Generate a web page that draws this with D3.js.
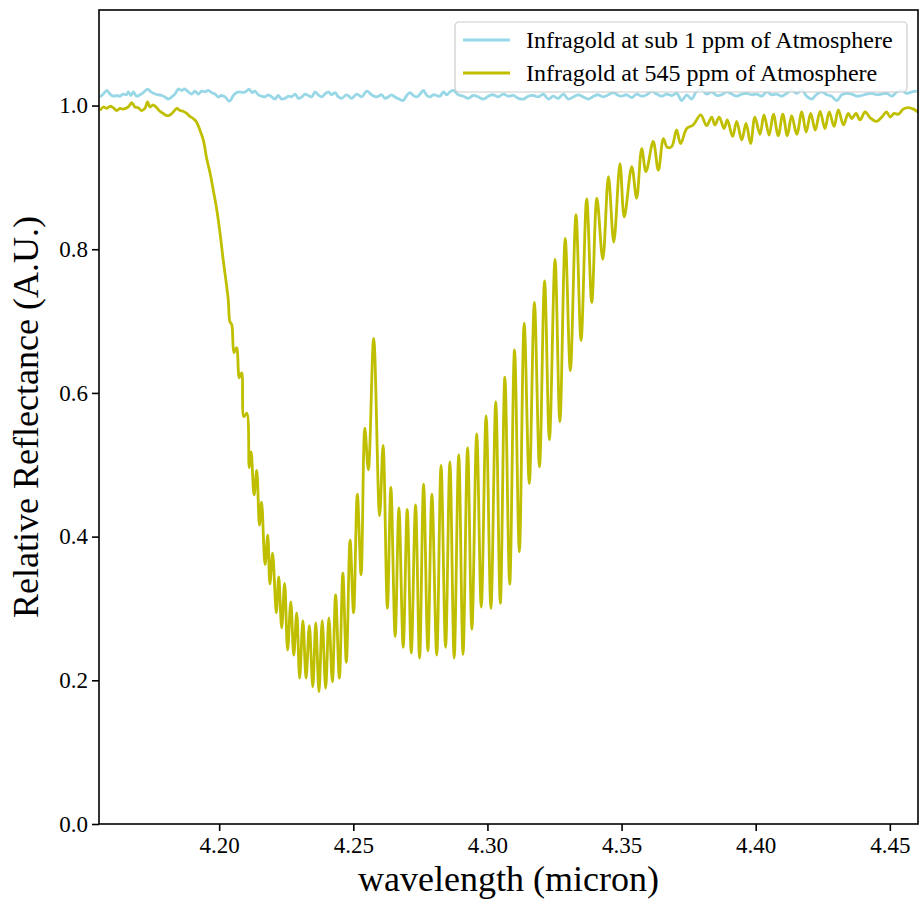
<!DOCTYPE html>
<html>
<head>
<meta charset="utf-8">
<script src="https://cdn.jsdelivr.net/npm/d3@7"></script>
<style>
  body { margin: 0; background: #fff; }
  text { font-family: "Liberation Serif", "DejaVu Serif", serif; fill: #000; }
</style>
</head>
<body>
<div id="chart"></div>
<script>
// values (wavelength in micron, relative reflectance)
const wavelengthSub1 = [
  4.1556, 4.1568, 4.1581, 4.1593, 4.1605, 4.1618, 4.1630, 4.1642, 4.1655, 4.1661,
  4.1671, 4.1680, 4.1692, 4.1705, 4.1717, 4.1733, 4.1746, 4.1761, 4.1773, 4.1786,
  4.1798, 4.1810, 4.1823, 4.1835, 4.1848, 4.1860, 4.1872, 4.1885, 4.1897, 4.1910,
  4.1922, 4.1935, 4.1947, 4.1959, 4.1972, 4.1984, 4.1997, 4.2009, 4.2022, 4.2038,
  4.2053, 4.2065, 4.2078, 4.2090, 4.2102, 4.2111, 4.2123, 4.2133, 4.2146, 4.2158,
  4.2171, 4.2183, 4.2196, 4.2208, 4.2220, 4.2233, 4.2245, 4.2258, 4.2270, 4.2283,
  4.2295, 4.2308, 4.2320, 4.2332, 4.2345, 4.2357, 4.2369, 4.2382, 4.2394, 4.2407,
  4.2419, 4.2432, 4.2444, 4.2457, 4.2475, 4.2494, 4.2513, 4.2531, 4.2550, 4.2568,
  4.2587, 4.2606, 4.2618, 4.2634, 4.2643, 4.2655, 4.2671, 4.2686, 4.2699, 4.2711,
  4.2724, 4.2736, 4.2749, 4.2761, 4.2774, 4.2786, 4.2798, 4.2811, 4.2823, 4.2836,
  4.2848, 4.2860, 4.2873, 4.2891, 4.2910, 4.2929, 4.2947, 4.2966, 4.2985, 4.3003,
  4.3022, 4.3040, 4.3059, 4.3078, 4.3096, 4.3115, 4.3134, 4.3152, 4.3171, 4.3190,
  4.3208, 4.3227, 4.3245, 4.3264, 4.3283, 4.3301, 4.3320, 4.3339, 4.3357, 4.3376,
  4.3395, 4.3413, 4.3432, 4.3451, 4.3469, 4.3488, 4.3500, 4.3519, 4.3538, 4.3556,
  4.3575, 4.3594, 4.3612, 4.3631, 4.3650, 4.3668, 4.3687, 4.3706, 4.3724, 4.3743,
  4.3761, 4.3780, 4.3799, 4.3817, 4.3836, 4.3855, 4.3873, 4.3892, 4.3911, 4.3929,
  4.3948, 4.3966, 4.3985, 4.4004, 4.4022, 4.4041, 4.4060, 4.4078, 4.4097, 4.4116,
  4.4134, 4.4153, 4.4172, 4.4190, 4.4209, 4.4228, 4.4246, 4.4265, 4.4283, 4.4302,
  4.4321, 4.4339, 4.4358, 4.4377, 4.4395, 4.4414, 4.4433, 4.4451, 4.4470, 4.4489,
  4.4507, 4.4526, 4.4544, 4.4563, 4.4582, 4.4600
];
const reflectanceSub1 = [
  1.012, 1.016, 1.021, 1.016, 1.013, 1.014, 1.013, 1.016, 1.015, 1.019,
  1.014, 1.019, 1.013, 1.015, 1.018, 1.023, 1.019, 1.016, 1.015, 1.014,
  1.012, 1.009, 1.012, 1.016, 1.023, 1.021, 1.023, 1.019, 1.016, 1.020,
  1.016, 1.020, 1.019, 1.021, 1.018, 1.016, 1.012, 1.014, 1.012, 1.006,
  1.014, 1.018, 1.019, 1.018, 1.020, 1.023, 1.018, 1.020, 1.015, 1.013,
  1.012, 1.015, 1.012, 1.009, 1.014, 1.009, 1.010, 1.013, 1.012, 1.016,
  1.010, 1.012, 1.016, 1.014, 1.012, 1.019, 1.015, 1.012, 1.016, 1.019,
  1.015, 1.018, 1.012, 1.010, 1.015, 1.010, 1.016, 1.012, 1.020, 1.015,
  1.012, 1.015, 1.010, 1.013, 1.015, 1.012, 1.009, 1.007, 1.014, 1.018,
  1.014, 1.012, 1.016, 1.021, 1.014, 1.012, 1.015, 1.014, 1.013, 1.019,
  1.015, 1.019, 1.021, 1.015, 1.013, 1.010, 1.014, 1.012, 1.009, 1.013,
  1.015, 1.012, 1.016, 1.013, 1.014, 1.010, 1.009, 1.013, 1.014, 1.012,
  1.016, 1.009, 1.013, 1.010, 1.016, 1.009, 1.012, 1.015, 1.012, 1.009,
  1.013, 1.015, 1.012, 1.015, 1.018, 1.014, 1.013, 1.015, 1.011, 1.016,
  1.013, 1.015, 1.020, 1.016, 1.013, 1.016, 1.014, 1.017, 1.007, 1.015,
  1.009, 1.020, 1.022, 1.016, 1.019, 1.014, 1.015, 1.019, 1.016, 1.013,
  1.016, 1.017, 1.015, 1.016, 1.013, 1.019, 1.015, 1.016, 1.013, 1.017,
  1.021, 1.017, 1.022, 1.013, 1.009, 1.016, 1.019, 1.015, 1.013, 1.007,
  1.015, 1.017, 1.016, 1.013, 1.014, 1.016, 1.017, 1.015, 1.016, 1.017,
  1.013, 1.019, 1.021, 1.017, 1.019, 1.020
];

const wavelength545 = [
  4.1556, 4.1568, 4.1581, 4.1593, 4.1605, 4.1618, 4.1630, 4.1642, 4.1661, 4.1674,
  4.1686, 4.1698, 4.1711, 4.1723, 4.1733, 4.1742, 4.1754, 4.1767, 4.1779, 4.1792,
  4.1804, 4.1817, 4.1829, 4.1842, 4.1854, 4.1866, 4.1879, 4.1891, 4.1903, 4.1914,
  4.1928, 4.1941, 4.1953, 4.1966, 4.1978, 4.1991, 4.2003, 4.2015, 4.2025, 4.2034,
  4.2040, 4.2047, 4.2055, 4.2065, 4.2075, 4.2084, 4.2092, 4.2103, 4.2112, 4.2119,
  4.2130, 4.2140, 4.2150, 4.2158, 4.2171, 4.2181, 4.2189, 4.2199, 4.2213, 4.2222,
  4.2233, 4.2244, 4.2255, 4.2267, 4.2278, 4.2289, 4.2300, 4.2312, 4.2324, 4.2336,
  4.2349, 4.2360, 4.2372, 4.2384, 4.2397, 4.2409, 4.2422, 4.2434, 4.2448, 4.2461,
  4.2474, 4.2488, 4.2501, 4.2515, 4.2529, 4.2543, 4.2556, 4.2576, 4.2598, 4.2611,
  4.2627, 4.2640, 4.2656, 4.2670, 4.2686, 4.2701, 4.2716, 4.2732, 4.2747, 4.2762,
  4.2778, 4.2793, 4.2811, 4.2827, 4.2844, 4.2860, 4.2876, 4.2893, 4.2909, 4.2926,
  4.2942, 4.2960, 4.2977, 4.2995, 4.3013, 4.3031, 4.3048, 4.3065, 4.3083, 4.3101,
  4.3119, 4.3137, 4.3156, 4.3175, 4.3194, 4.3213, 4.3231, 4.3252, 4.3270, 4.3290,
  4.3309, 4.3330, 4.3349, 4.3370, 4.3389, 4.3408, 4.3430, 4.3451, 4.3471, 4.3494,
  4.3510, 4.3538, 4.3556, 4.3575, 4.3591, 4.3618, 4.3637, 4.3656, 4.3670, 4.3687,
  4.3705, 4.3720, 4.3743, 4.3767, 4.3795, 4.3817, 4.3836, 4.3848, 4.3864, 4.3882,
  4.3894, 4.3914, 4.3929, 4.3948, 4.3964, 4.3981, 4.3997, 4.4016, 4.4031, 4.4050,
  4.4066, 4.4084, 4.4101, 4.4118, 4.4134, 4.4153, 4.4172, 4.4188, 4.4205, 4.4222,
  4.4240, 4.4258, 4.4274, 4.4292, 4.4308, 4.4327, 4.4345, 4.4358, 4.4374, 4.4389,
  4.4408, 4.4429, 4.4451, 4.4470, 4.4488, 4.4501, 4.4516, 4.4532, 4.4550, 4.4569,
  4.4588, 4.4605
];
const reflectance545 = [
  0.993, 0.998, 0.996, 0.999, 0.997, 0.993, 0.996, 0.995, 0.998, 1.004,
  0.998, 0.997, 0.993, 0.996, 1.005, 0.998, 1.001, 0.997, 0.992, 0.989,
  0.986, 0.987, 0.991, 0.996, 0.993, 0.992, 0.989, 0.985, 0.982, 0.978,
  0.966, 0.952, 0.927, 0.906, 0.882, 0.855, 0.823, 0.785, 0.757, 0.729,
  0.699, 0.695, 0.656, 0.663, 0.621, 0.628, 0.567, 0.572, 0.496, 0.518,
  0.458, 0.492, 0.416, 0.448, 0.361, 0.402, 0.334, 0.377, 0.294, 0.344,
  0.273, 0.335, 0.242, 0.309, 0.235, 0.294, 0.203, 0.283, 0.203, 0.276,
  0.191, 0.280, 0.184, 0.283, 0.189, 0.287, 0.198, 0.319, 0.203, 0.349,
  0.225, 0.395, 0.294, 0.459, 0.347, 0.551, 0.493, 0.676, 0.429, 0.527,
  0.300, 0.469, 0.261, 0.440, 0.246, 0.438, 0.238, 0.444, 0.231, 0.473,
  0.241, 0.459, 0.235, 0.499, 0.246, 0.504, 0.231, 0.514, 0.236, 0.524,
  0.271, 0.543, 0.302, 0.568, 0.300, 0.588, 0.307, 0.622, 0.334, 0.660,
  0.379, 0.697, 0.474, 0.726, 0.497, 0.756, 0.535, 0.786, 0.560, 0.815,
  0.631, 0.848, 0.673, 0.870, 0.726, 0.871, 0.786, 0.901, 0.810, 0.919,
  0.845, 0.915, 0.871, 0.940, 0.908, 0.950, 0.910, 0.954, 0.942, 0.943,
  0.966, 0.947, 0.968, 0.973, 0.987, 0.972, 0.984, 0.973, 0.984, 0.968,
  0.980, 0.957, 0.978, 0.952, 0.975, 0.947, 0.984, 0.960, 0.987, 0.959,
  0.988, 0.958, 0.988, 0.958, 0.986, 0.960, 0.991, 0.963, 0.989, 0.966,
  0.992, 0.968, 0.991, 0.971, 0.994, 0.973, 0.989, 0.982, 0.989, 0.980,
  0.991, 0.982, 0.978, 0.984, 0.991, 0.984, 0.989, 0.988, 0.995, 0.997,
  0.995, 0.991
];

const seriesNames = ["Infragold at sub 1 ppm of Atmosphere", "Infragold at 545 ppm of Atmosphere"];
const seriesColors = ["#98d7e6", "#bfbf00"];
const xTickValues = [4.20, 4.25, 4.30, 4.35, 4.40, 4.45];
const yTickValues = [0.0, 0.2, 0.4, 0.6, 0.8, 1.0];

const margin = { top: 10, right: 1, bottom: 79, left: 99 };
const width = 919 - margin.left - margin.right;
const height = 903 - margin.top - margin.bottom;

const x = d3.scaleLinear().domain([4.1552, 4.4605]).range([0, width]);
const y = d3.scaleLinear().domain([0, 1.133]).range([height, 0]);

const svg = d3.select("#chart")
  .append("svg")
  .attr("width", 919)
  .attr("height", 903);

const g = svg.append("g")
  .attr("transform", "translate(" + margin.left + "," + margin.top + ")");

g.append("clipPath").attr("id", "plot-clip")
  .append("rect").attr("width", width).attr("height", height);

const line = d3.line()
  .x(d => x(d[0]))
  .y(d => y(d[1]))
  .curve(d3.curveCatmullRom.alpha(0.5));

const series = [
  d3.zip(wavelengthSub1, reflectanceSub1),
  d3.zip(wavelength545, reflectance545)
];

g.append("g").attr("clip-path", "url(#plot-clip)")
  .selectAll("path")
  .data(series)
  .enter()
  .append("path")
  .attr("d", line)
  .attr("fill", "none")
  .attr("stroke", (d, i) => seriesColors[i])
  .attr("stroke-width", 2.8)
  .attr("stroke-linejoin", "round");

// axes
const xAxis = g.append("g")
  .attr("transform", "translate(0," + height + ")")
  .call(d3.axisBottom(x).tickValues(xTickValues).tickFormat(d3.format(".2f")).tickSize(7).tickPadding(6));
const yAxis = g.append("g")
  .call(d3.axisLeft(y).tickValues(yTickValues).tickFormat(d3.format(".1f")).tickSize(7).tickPadding(4));

[xAxis, yAxis].forEach(a => {
  a.select(".domain").remove();
  a.selectAll("line").attr("stroke", "#000").attr("stroke-width", 1.6);
  a.selectAll("text").style("font-size", "23px").attr("fill", "#000");
});

// frame
g.append("rect")
  .attr("width", width)
  .attr("height", height)
  .attr("fill", "none")
  .attr("stroke", "#000")
  .attr("stroke-width", 1.6);

svg.append("text")
  .attr("x", margin.left + width / 2)
  .attr("y", 891)
  .attr("text-anchor", "middle")
  .style("font-size", "36px")
  .text("wavelength (micron)");

svg.append("text")
  .attr("transform", "translate(38," + (margin.top + height / 2) + ") rotate(-90)")
  .attr("text-anchor", "middle")
  .style("font-size", "36px")
  .text("Relative Reflectance (A.U.)");

// legend
const legend = svg.append("g").attr("transform", "translate(455,22)");
legend.append("rect")
  .attr("width", 452)
  .attr("height", 70)
  .attr("rx", 4)
  .attr("fill", "rgba(255,255,255,0.8)")
  .attr("stroke", "#cccccc")
  .attr("stroke-width", 1.2);

const items = legend.selectAll(".item")
  .data(seriesNames)
  .enter()
  .append("g")
  .attr("class", "item")
  .attr("transform", (d, i) => "translate(0," + (18 + i * 33) + ")");

items.append("line")
  .attr("x1", 8).attr("x2", 55)
  .attr("stroke", (d, i) => seriesColors[i])
  .attr("stroke-width", 2.8);

items.append("text")
  .attr("x", 71)
  .attr("dy", "0.35em")
  .style("font-size", "24px")
  .text(d => d);
</script>
</body>
</html>
